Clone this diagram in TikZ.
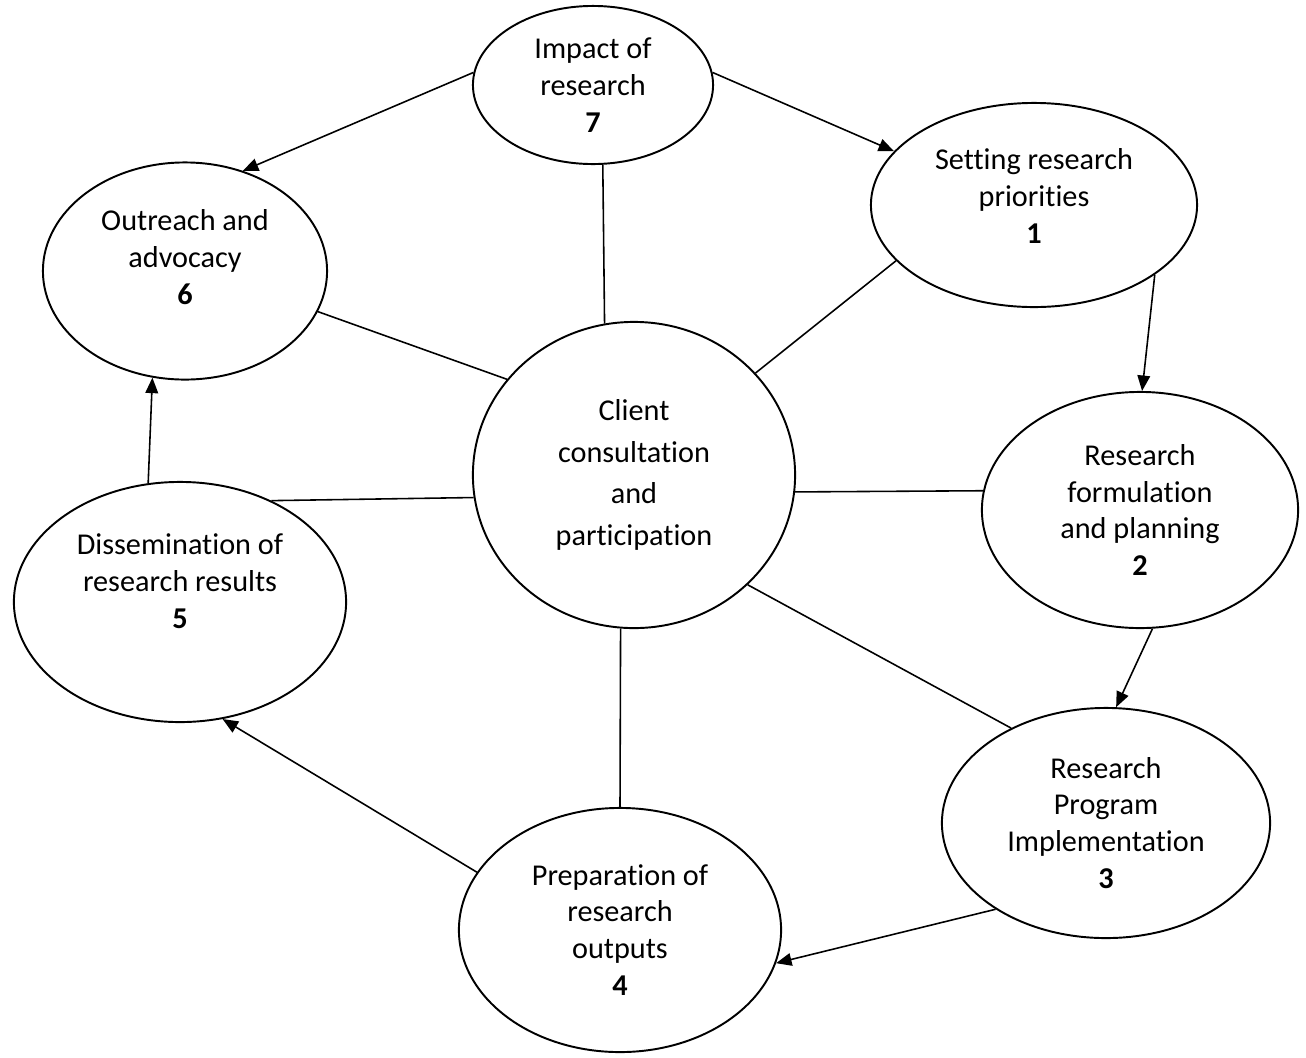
\documentclass[tikz,border=0pt]{standalone}
\usepackage{fontspec}
\setmainfont{Carlito}[Ligatures=NoCommon]
\usetikzlibrary{arrows.meta,shapes.geometric}
\tikzset{
  stage/.style={draw, ellipse, line width=0.55pt, inner sep=0pt, align=center,
    font=\fontsize{8.6}{10.5}\selectfont},
  link/.style={line width=0.45pt},
  flow/.style={line width=0.45pt, -{Triangle[length=4.4pt,width=3.6pt]}}
}
\begin{document}
\begin{tikzpicture}[x=0.01cm, y=-0.01cm]
        \useasboundingbox (0,0) rectangle (1306,1057);

        \node[stage, minimum width=2.40cm, minimum height=1.58cm] (impact) at (593,85) {Impact of\\research\\\textbf{7}};
        \node[stage, minimum width=3.26cm, minimum height=2.04cm, text depth=0.18cm] (priorities) at (1034,205) {Setting research\\priorities\\\textbf{1}};
        \node[stage, minimum width=2.84cm, minimum height=2.17cm, text depth=0.28cm] (outreach) at (185,271) {Outreach and\\advocacy\\\textbf{6}};
        \node[stage, minimum width=3.22cm, minimum height=3.06cm, font=\fontsize{8.6}{11.9}\selectfont] (client) at (634,475) {Client\\consultation\\and\\participation};
        \node[stage, minimum width=3.16cm, minimum height=2.36cm] (planning) at (1140,510) {Research\\formulation\\and planning\\\textbf{2}};
        \node[stage, minimum width=3.32cm, minimum height=2.40cm, text depth=0.42cm] (dissemination) at (180,602) {Dissemination of\\research results\\\textbf{5}};
        \node[stage, minimum width=3.28cm, minimum height=2.30cm] (implementation) at (1106,823) {Research\\Program\\Implementation\\\textbf{3}};
        \node[stage, minimum width=3.22cm, minimum height=2.44cm] (outputs) at (620,930) {Preparation of\\research\\outputs\\\textbf{4}};

        \draw[flow] (impact.174) -- (outreach.60);
        \draw[flow] (impact.6) -- (priorities.159);
        \draw[flow] (priorities.330) -- (planning.89);
        \draw[flow] (planning.276) -- (implementation.85);
        \draw[flow] (implementation.218) -- (outputs.348);
        \draw[flow] (outputs.158) -- (dissemination.290);
        \draw[flow] (dissemination.105) -- (outreach.253);

        \draw[link] (client.101) -- (impact.277);
        \draw[link] (client.143) -- (outreach.343);
        \draw[link] (client.40) -- (priorities.202);
        \draw[link] (client.354) -- (planning.173);
        \draw[link] (client.188) -- (dissemination.48);
        \draw[link] (client.316) -- (implementation.135);
        \draw[link] (client.265) -- (outputs.90);
\end{tikzpicture}
\end{document}
